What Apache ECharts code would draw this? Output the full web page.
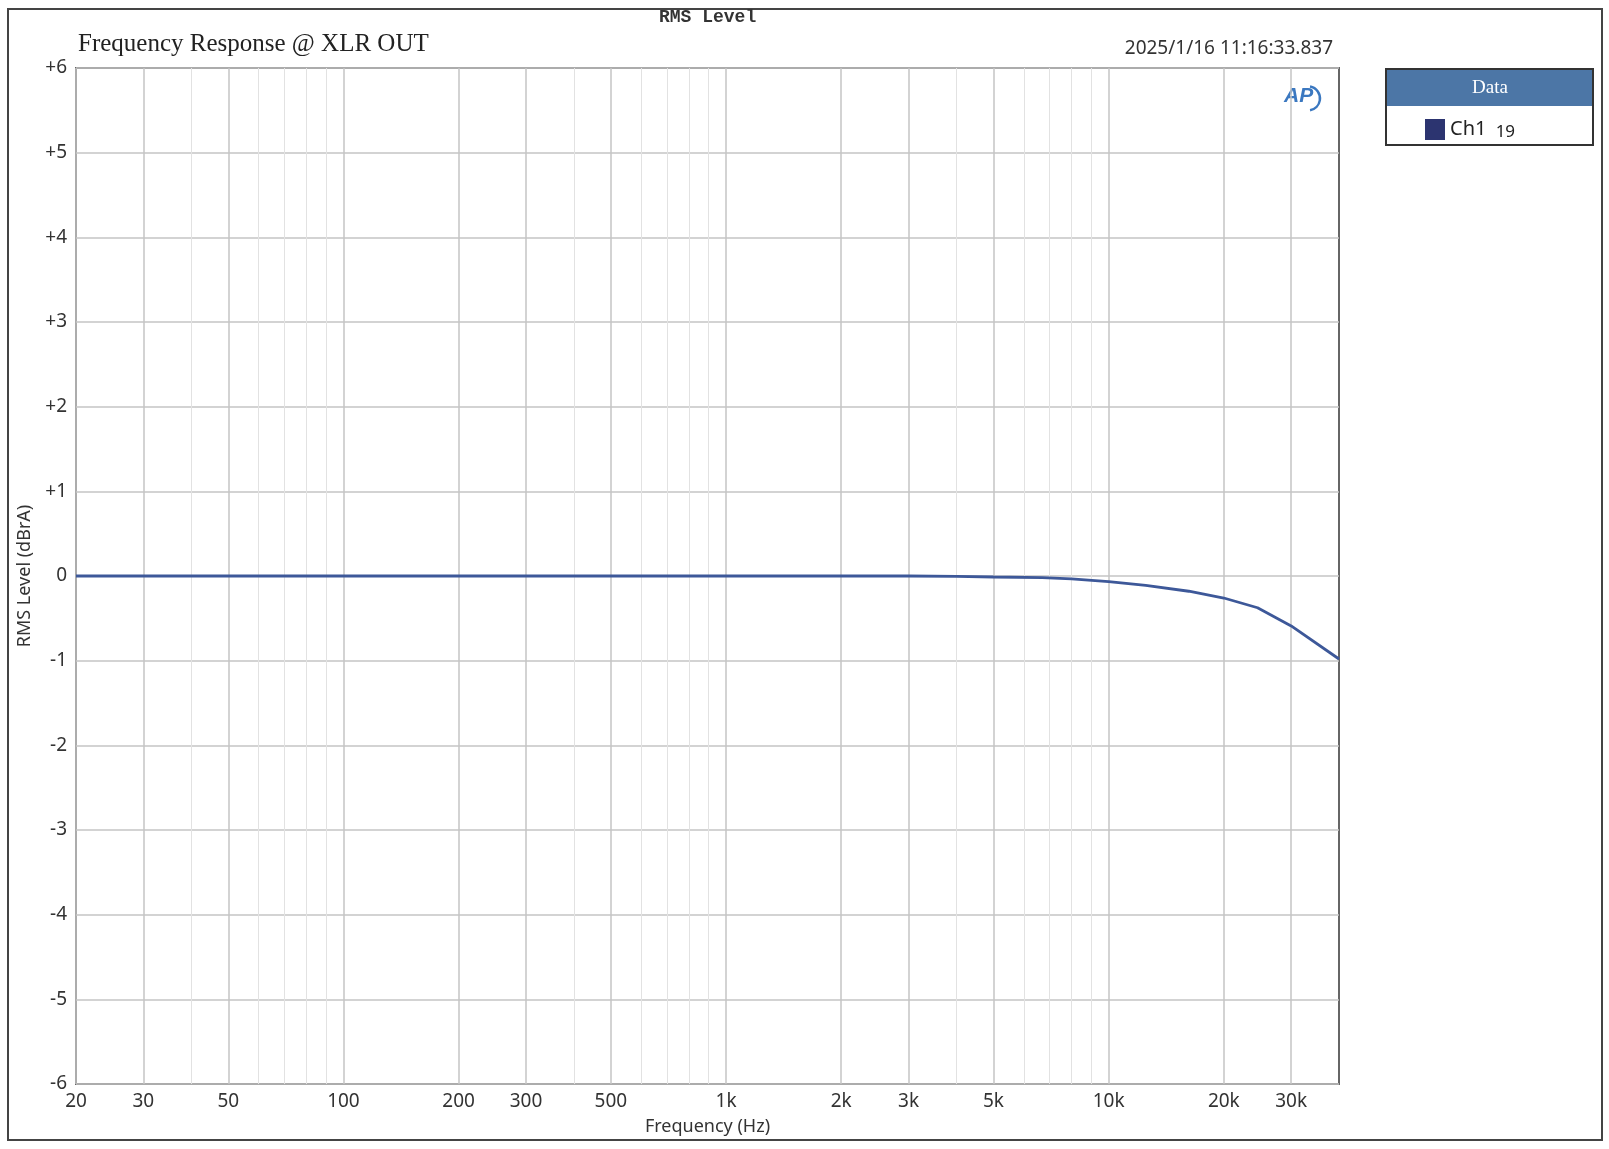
<!DOCTYPE html>
<html>
<head>
<meta charset="utf-8">
<title>Frequency Response @ XLR OUT</title>
<script src="https://cdn.jsdelivr.net/npm/echarts@6/dist/echarts.min.js"></script>
<style>
  html, body { margin: 0; padding: 0; background: #fff; }
  #main { width: 1609px; height: 1149px; }
</style>
</head>
<body>
<div id="main"></div>
<script>
// 频率 (Hz) 与 电平 (dBrA)
var freqs = [20, 50, 100, 200, 500, 1000, 2000, 3000, 4000, 5000, 6700, 8000, 10000, 12500, 16200, 20000, 24500, 30000, 40000];
var levels = [0, 0, 0, 0, 0, 0, 0, 0, -0.005, -0.012, -0.02, -0.035, -0.067, -0.11, -0.18, -0.26, -0.375, -0.59, -0.98];

// 带标签的主刻度和无标签的次刻度
var majorTicks = [20, 30, 50, 100, 200, 300, 500, 1000, 2000, 3000, 5000, 10000, 20000, 30000];
var minorTicks = [40, 60, 70, 80, 90, 400, 600, 700, 800, 900, 4000, 6000, 7000, 8000, 9000];

var seriesName = 'Ch1';
var seriesNote = '19';

var chart = echarts.init(document.getElementById('main'));

var points = [];
for (var i = 0; i < freqs.length; i++) {
  points.push([freqs[i], levels[i]]);
}

function freqLabel(v) {
  if (v >= 1000) {
    return (v / 1000) + 'k';
  }
  return '' + v;
}

var sansFont = '"Noto Sans", "Open Sans", sans-serif';

var option = {
  backgroundColor: '#fff',
  animation: false,
  grid: {
    left: 76,
    top: 68,
    width: 1263,
    height: 1016,
    show: true,
    borderColor: '#666',
    borderWidth: 2
  },
  xAxis: [
    {
      type: 'log',
      logBase: 10,
      min: 20,
      max: 40000,
      name: 'Frequency (Hz)',
      nameLocation: 'middle',
      nameGap: 34,
      nameTextStyle: { fontFamily: sansFont, fontSize: 18, color: '#333' },
      axisLine: { show: false },
      axisTick: { show: false, customValues: majorTicks },
      axisLabel: {
        customValues: majorTicks,
        formatter: freqLabel,
        fontFamily: sansFont,
        fontSize: 19,
        color: '#333',
        margin: 8
      },
      splitLine: { show: true, lineStyle: { color: '#c4c4c4', width: 1.5 } }
    },
    {
      type: 'log',
      logBase: 10,
      min: 20,
      max: 40000,
      position: 'bottom',
      axisLine: { show: false },
      axisTick: { show: false, customValues: minorTicks },
      axisLabel: { show: false, customValues: minorTicks },
      splitLine: { show: true, lineStyle: { color: '#e2e2e2', width: 1 } }
    }
  ],
  yAxis: {
    type: 'value',
    min: -6,
    max: 6,
    interval: 1,
    name: 'RMS Level (dBrA)',
    nameLocation: 'middle',
    nameGap: 38,
    nameTextStyle: { fontFamily: sansFont, fontSize: 18, color: '#333' },
    axisLine: { show: false },
    axisTick: { show: false },
    axisLabel: {
      formatter: function (v) { return v > 0 ? '+' + v : '' + v; },
      fontFamily: sansFont,
      fontSize: 19,
      color: '#333',
      margin: 9
    },
    splitLine: { show: true, lineStyle: { color: '#c4c4c4', width: 1.5 } }
  },
  legend: {
    data: [seriesName],
    left: 1420,
    top: 114,
    icon: 'rect',
    itemWidth: 20,
    itemHeight: 21,
    itemGap: 4,
    formatter: function (name) { return name + ' {n|' + seriesNote + '}'; },
    textStyle: {
      fontFamily: sansFont,
      fontSize: 20,
      color: '#222',
      rich: { n: { fontFamily: sansFont, fontSize: 17, color: '#222', padding: [6, 0, 0, 4] } }
    },
    itemStyle: { color: '#2c3470' }
  },
  series: [
    {
      name: seriesName,
      type: 'line',
      xAxisIndex: 0,
      data: points,
      symbol: 'none',
      smooth: false,
      lineStyle: { color: '#3d5899', width: 2.8 },
      itemStyle: { color: '#3d5899' },
      z: 5
    }
  ],
  graphic: [
    // 外框
    {
      type: 'rect', z: -1, silent: true,
      shape: { x: 8, y: 9, width: 1594, height: 1131 },
      style: { fill: 'none', stroke: '#444', lineWidth: 2 }
    },
    {
      type: 'text', left: 659, top: 8,
      style: { text: 'RMS Level', font: 'bold 18px "Liberation Mono", "DejaVu Sans Mono", monospace', fill: '#333' }
    },
    {
      type: 'text', left: 78, top: 32,
      style: { text: 'Frequency Response @ XLR OUT', font: '25px "Liberation Serif", "DejaVu Serif", serif', fill: '#222' }
    },
    {
      type: 'text', right: 1609 - 1333, top: 39,
      style: { text: '2025/1/16 11:16:33.837', font: '19px "Noto Sans", "Open Sans", sans-serif', fill: '#333' }
    },
    // AP 标志
    {
      type: 'group', left: 1284, top: 84,
      children: [
        {
          type: 'arc',
          shape: { cx: 24, cy: 13, r: 12, startAngle: -1.4, endAngle: 1.4 },
          style: { fill: 'none', stroke: '#3b78c0', lineWidth: 2.5 }
        },
        {
          type: 'text', x: 0, y: 0,
          style: { text: 'AP', font: 'italic bold 21px "Liberation Sans", sans-serif', fill: '#3b78c0' }
        }
      ]
    },
    // 图例框
    {
      type: 'rect', silent: true,
      shape: { x: 1386, y: 69, width: 207, height: 37 },
      style: { fill: '#4c76a6' }
    },
    {
      type: 'rect', silent: true,
      shape: { x: 1386, y: 69, width: 207, height: 76 },
      style: { fill: 'none', stroke: '#333', lineWidth: 2 }
    },
    {
      type: 'text', x: 1490, y: 88,
      style: { text: 'Data', font: '19px "Liberation Serif", "DejaVu Serif", serif', fill: '#fff', align: 'center', verticalAlign: 'middle' }
    }
  ]
};

chart.setOption(option);
</script>
</body>
</html>
